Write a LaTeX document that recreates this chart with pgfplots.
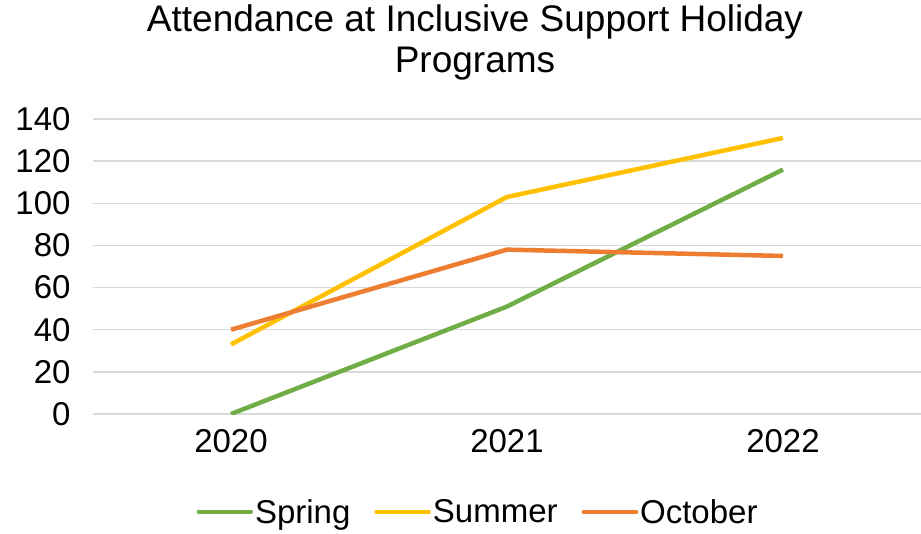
\documentclass[border=0pt]{standalone}
\usepackage{pgfplots}
\pgfplotsset{compat=1.18}
\usepackage{fontspec}
\setmainfont{Liberation Sans}
\definecolor{cSpring}{HTML}{70AD47}
\definecolor{cSummer}{HTML}{FFC000}
\definecolor{cOct}{HTML}{ED7D31}
\definecolor{cGrid}{HTML}{D9D9D9}
\begin{document}
\begin{tikzpicture}
\useasboundingbox (-93pt,-119pt) rectangle (828pt,414pt);
\begin{axis}[
  scale only axis,
  width=828pt, height=295pt,
  xmin=-0.5, xmax=2.5,
  ymin=0, ymax=140,
  xtick={0,1,2},
  xticklabels={2020,2021,2022},
  ytick={0,20,...,140},
  ymajorgrids,
  major grid style={cGrid, line width=1.5pt},
  axis line style={draw=none},
  tick style={draw=none},
  font=\fontsize{33}{40}\selectfont,
  /pgf/number format/assume math mode=true,
  yticklabel style={anchor=east, xshift=-19pt},
  xticklabel style={anchor=north, yshift=-12pt},
  legend style={at={(0.465,-0.332)}, anchor=center, draw=none,
     legend columns=3, /tikz/every even column/.append style={column sep=22pt},
     font=\fontsize{33}{40}\selectfont, inner sep=0pt},
  legend image code/.code={\draw[#1, line width=4.5pt, line cap=round] (0pt,0pt) -- (52pt,0pt);},
  every axis plot/.append style={line width=4.5pt, line join=round},
]
\addplot[cSpring] coordinates {(0,0) (1,51) (2,116)};
\addplot[cSummer] coordinates {(0,33) (1,103) (2,131)};
\addplot[cOct] coordinates {(0,40) (1,78) (2,75)};
\legend{Spring,Summer,October}
\end{axis}
\node[align=center, font=\fontsize{37}{41}\selectfont] at (382pt,372pt) {Attendance at Inclusive Support Holiday\\Programs};
\end{tikzpicture}
\end{document}
